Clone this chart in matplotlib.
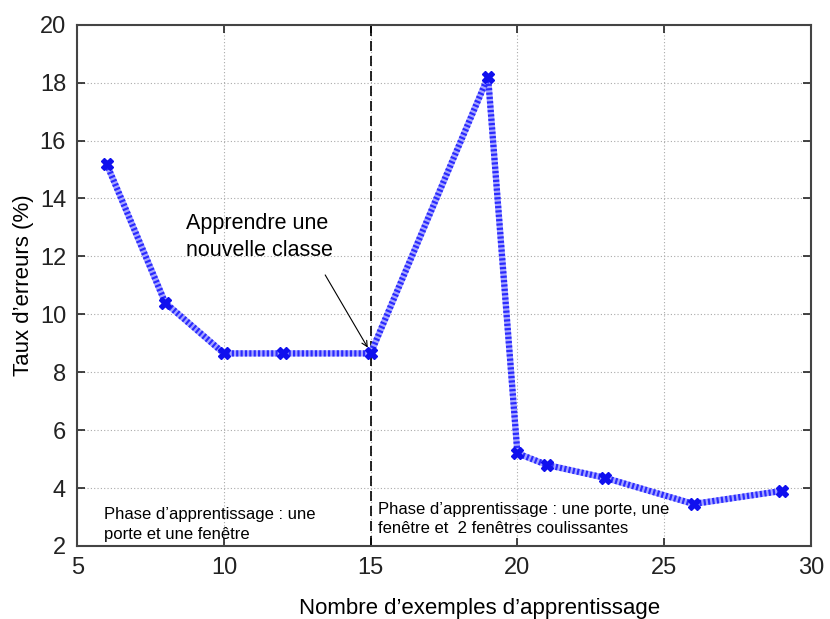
import matplotlib
matplotlib.use("Agg")
import matplotlib.pyplot as plt
from matplotlib import font_manager

x_vals = [6, 8, 10, 12, 15, 19, 20, 21, 23, 26, 29]
y_vals = [15.2, 10.4, 8.65, 8.65, 8.65, 18.2, 5.2, 4.8, 4.35, 3.45, 3.9]
x_ticks = [5, 10, 15, 20, 25, 30]
y_ticks = [2, 4, 6, 8, 10, 12, 14, 16, 18, 20]
split_x = 15

names = {f.name for f in font_manager.fontManager.ttflist}
narrow = 'Liberation Sans Narrow' if 'Liberation Sans Narrow' in names else 'Liberation Sans'

plt.rcParams['font.family'] = ['Liberation Sans', 'DejaVu Sans']

fig = plt.figure(figsize=(8.3, 6.19), dpi=100)
ax = fig.add_axes([0.093, 0.118, 0.884, 0.842])

ax.set_xlim(5, 30)
ax.set_ylim(2, 20)
ax.set_xticks(x_ticks)
ax.set_yticks(y_ticks)
ax.grid(True, linestyle=(0, (1, 2)), color='#aaaaaa', linewidth=0.8)
ax.tick_params(direction='in', top=True, right=True, length=6, width=1.2,
               labelsize=17, colors='#222222', pad=8)
for s in ax.spines.values():
    s.set_color('#444444')
    s.set_linewidth(1.5)

ax.plot(x_vals, y_vals, color='#a5a5ff', linewidth=4.5, zorder=3)
ax.plot(x_vals, y_vals, color='#2a2aff', linewidth=4.5, linestyle=(0, (0.35, 0.35)),
        marker='X', markersize=9, markeredgecolor='#1010ee', markerfacecolor='#1010ee', zorder=4)

ax.axvline(split_x, color='black', linestyle=(0, (6, 3)), linewidth=1.2, zorder=2)

ax.text(8.7, 11.85, 'Apprendre une\nnouvelle classe', fontsize=15.5, ha='left', va='bottom',
        linespacing=1.35, zorder=5)
ax.annotate('', xy=(14.9, 8.85), xytext=(13.45, 11.36),
            arrowprops=dict(arrowstyle='->', color='black', lw=0.8, shrinkA=0, shrinkB=0),
            zorder=5)

ax.text(5.9, 2.15, "Phase d’apprentissage : une\nporte et une fenêtre", fontsize=12,
        family=[narrow, 'DejaVu Sans'], ha='left', va='bottom', linespacing=1.35)
ax.text(15.25, 2.35, "Phase d’apprentissage : une porte, une\nfenêtre et  2 fenêtres coulissantes", fontsize=12,
        family=[narrow, 'DejaVu Sans'], ha='left', va='bottom', linespacing=1.35)

ax.set_ylabel('Taux d’erreurs (%)', fontsize=16, labelpad=4)
ax.set_xlabel('Nombre d’exemples d’apprentissage', fontsize=16,
              family=[narrow, 'DejaVu Sans'])
ax.xaxis.set_label_coords(0.548, -0.1)

fig.savefig('out.png', dpi=100)
